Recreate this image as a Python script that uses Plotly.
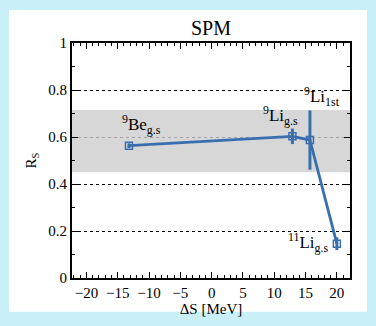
import plotly.graph_objects as go

# data
labels = ["<sup>9</sup>Be<sub>g.s</sub>", "<sup>9</sup>Li<sub>g.s</sub>",
          "<sup>9</sup>Li<sub>1st</sub>", "<sup>11</sup>Li<sub>g.s</sub>"]
delta_s = [-13.2, 12.9, 15.7, 20.0]
r_s = [0.563, 0.603, 0.587, 0.146]
r_err = [0.01, 0.033, 0.126, 0.027]
band_low, band_high = 0.45, 0.715
label_x = [-11.2, 11.0, 17.6, 15.4]
label_y = [0.652, 0.69, 0.773, 0.15]

x_range = [-22.3, 22.1]
y_range = [0, 1]

BLUE = "#3a6fae"
FONT = "Liberation Serif"

L, R, T, B = 72, 26, 43, 40
W, H = 376, 326
pw, ph = W - L - R, H - T - B

fig = go.Figure()
fig.add_trace(go.Scatter(
    x=delta_s, y=r_s, mode="lines+markers",
    line=dict(color=BLUE, width=2.8),
    marker=dict(symbol="square-open", size=7, color=BLUE, line=dict(width=1.5, color=BLUE)),
    error_y=dict(type="data", array=r_err, color=BLUE, thickness=3, width=0),
    showlegend=False, cliponaxis=False,
))

shapes = [
    # outer white card on cyan background
    dict(type="rect", xref="paper", yref="paper",
         x0=(9 - L) / pw, x1=(367 - L) / pw,
         y0=(H - B - 321) / ph, y1=(H - B - 9) / ph,
         fillcolor="white", line=dict(width=0), layer="below"),
    dict(type="rect", xref="x", yref="y", x0=x_range[0], x1=x_range[1],
         y0=band_low, y1=band_high, fillcolor="rgba(205,205,205,0.8)",
         line=dict(width=0), layer="between"),
]

annotations = []
for t, x, y in zip(labels, label_x, label_y):
    annotations.append(dict(x=x, y=y, xref="x", yref="y", text=t, showarrow=False,
                            font=dict(family=FONT, size=17, color="black")))

fig.update_layout(
    width=W, height=H,
    margin=dict(l=L, r=R, t=T, b=B),
    paper_bgcolor="#c9f0f8", plot_bgcolor="rgba(0,0,0,0)",
    font=dict(family=FONT, size=15, color="black"),
    title=dict(text="SPM", x=(L + pw / 2) / W, xanchor="center", y=1 - 28 / H, yanchor="middle",
               font=dict(family=FONT, size=20, color="black")),
    shapes=shapes, annotations=annotations,
    xaxis=dict(range=x_range, tickvals=[-20, -15, -10, -5, 0, 5, 10, 15, 20],
               ticktext=["\u221220", "\u221215", "\u221210", "\u22125", "0", "5", "10", "15", "20"],
               ticks="inside", ticklen=6, tickwidth=1, tickcolor="black",
               minor=dict(dtick=1, tick0=0, ticks="inside", ticklen=3, tickcolor="black"),
               showline=True, linecolor="black", linewidth=2, mirror="allticks",
               showgrid=False, zeroline=False,
               title=dict(text="\u0394S [MeV]", standoff=2, font=dict(size=15)),
               tickfont=dict(size=15)),
    yaxis=dict(range=y_range, tickvals=[0, 0.2, 0.4, 0.6, 0.8, 1],
               ticktext=["0", "0.2", "0.4", "0.6", "0.8", "1"],
               ticks="inside", ticklen=6, tickwidth=1, tickcolor="black",
               minor=dict(dtick=0.1, tick0=0, ticks="inside", ticklen=3, tickcolor="black", showgrid=False),
               showline=True, linecolor="black", linewidth=2, mirror="allticks",
               showgrid=True, gridcolor="black", griddash="dot", gridwidth=1, zeroline=False,
               title=dict(text="R<sub>S</sub>", standoff=8, font=dict(size=15)),
               tickfont=dict(size=15)),
)

fig.write_html("out.html")
